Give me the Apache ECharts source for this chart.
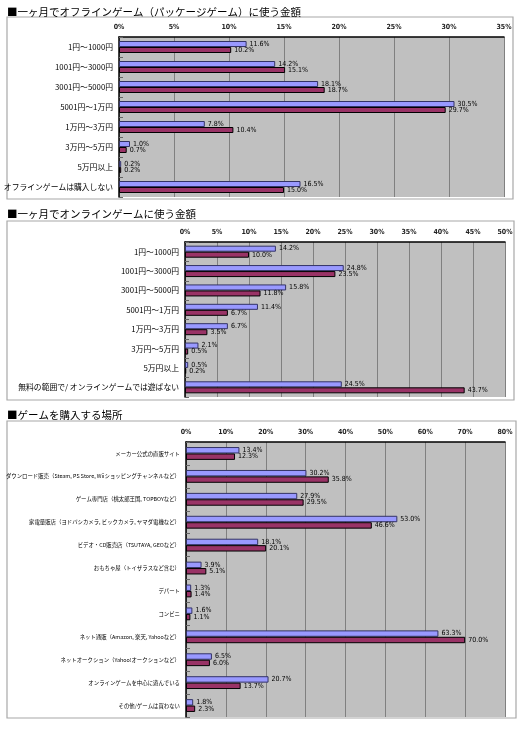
<!DOCTYPE html>
<html><head><meta charset="utf-8">
<script src="https://cdn.jsdelivr.net/npm/echarts@6/dist/echarts.min.js"></script>
<style>html,body{margin:0;padding:0;background:#fff;}#c{width:520px;height:732px;}</style>
</head><body><div id="c"></div>
<script>
// Chart 1: offline game spending per month
var titles = [
  '■一ヶ月でオフラインゲーム（パッケージゲーム）に使う金額',
  '■一ヶ月でオンラインゲームに使う金額',
  '■ゲームを購入する場所'
];
var cats1 = ['1円～1000円','1001円～3000円','3001円～5000円','5001円～1万円','1万円～3万円','3万円～5万円','5万円以上','オフラインゲームは購入しない'];
var blue1 = [11.6,14.2,18.1,30.5,7.8,1.0,0.2,16.5];
var red1  = [10.2,15.1,18.7,29.7,10.4,0.7,0.2,15.0];
var axisMax1 = 35, axisStep1 = 5;

// Chart 2: online game spending per month
var cats2 = ['1円～1000円','1001円～3000円','3001円～5000円','5001円～1万円','1万円～3万円','3万円～5万円','5万円以上','無料の範囲で/ オンラインゲームでは遊ばない'];
var blue2 = [14.2,24.8,15.8,11.4,6.7,2.1,0.5,24.5];
var red2  = [10.0,23.5,11.8,6.7,3.5,0.5,0.2,43.7];
var axisMax2 = 50, axisStep2 = 5;

// Chart 3: where games are purchased
var cats3 = ['メーカー公式の直販サイト','ダウンロード販売（Steam, PS Store, Wiiショッピングチャンネルなど）','ゲーム専門店（桃太郎王国, TOPBOYなど）','家電量販店（ヨドバシカメラ, ビックカメラ, ヤマダ電機など）','ビデオ・CD販売店（TSUTAYA, GEOなど）','おもちゃ屋（トイザラスなど含む）','デパート','コンビニ','ネット通販（Amazon, 楽天, Yahooなど）','ネットオークション（Yahoo!オークションなど）','オンラインゲームを中心に遊んでいる','その他/ゲームは買わない'];
var blue3 = [13.4,30.2,27.9,53.0,18.1,3.9,1.3,1.6,63.3,6.5,20.7,1.8];
var red3  = [12.3,35.8,29.5,46.6,20.1,5.1,1.4,1.1,70.0,6.0,13.7,2.3];
var axisMax3 = 80, axisStep3 = 10;

var JP = '"Noto Sans CJK JP", sans-serif';
var NUM = '"Liberation Sans Narrow", "DejaVu Sans Condensed", "Noto Sans CJK JP", sans-serif';

var grids = [
  {left:119, top:37, width:385, height:160},
  {left:185, top:242, width:320, height:155},
  {left:186, top:442, width:319, height:275}
];
var boxes = [
  {x:7, y:17, w:506, h:182},
  {x:7, y:221, w:507, h:179},
  {x:7, y:421, w:509, h:297}
];
var titleTops = [2, 204, 405];
var catFont = [7.8, 7.8, 5.4];
var gaps = ['40%','38%','44%'];
var maxes = [axisMax1, axisMax2, axisMax3];
var steps = [axisStep1, axisStep2, axisStep3];
var cats = [cats1, cats2, cats3];
var blues = [blue1, blue2, blue3];
var reds = [red1, red2, red3];

var option = {
  animation:false,
  backgroundColor:'#fff',
  title: titles.map(function(t,i){return {text:t, left:2, top:titleTops[i], textStyle:{fontFamily:JP, fontSize:10.5, fontWeight:'normal', color:'#000'}};}),
  graphic: boxes.map(function(b){return {type:'rect', shape:{x:b.x,y:b.y,width:b.w,height:b.h}, style:{fill:'none', stroke:'#a8a8a8', lineWidth:1.2}, z:-1};}),
  grid: grids.map(function(g){return {left:g.left, top:g.top, width:g.width, height:g.height, show:true, backgroundColor:'#c0c0c0', borderWidth:0, containLabel:false, outerBoundsMode:'none'};}),
  xAxis: grids.map(function(g,i){return {
    type:'value', gridIndex:i, position:'top', min:0, max:maxes[i], interval:steps[i],
    axisLine:{show:true, lineStyle:{color:'#000', width:1.5}},
    axisTick:{show:false},
    axisLabel:{formatter:'{value}%', fontFamily:NUM, fontSize:7, fontWeight:'bold', color:'#222', margin:6},
    splitLine:{show:true, lineStyle:{color:'#808080', width:1}}
  };}),
  yAxis: grids.map(function(g,i){return {
    type:'category', gridIndex:i, inverse:true, data:cats[i],
    axisLine:{show:true, lineStyle:{color:'#000', width:1.5}},
    axisTick:{show:true, inside:true, length:4, lineStyle:{color:'#666'}},
    axisLabel:{fontFamily:JP, fontSize:catFont[i], color:'#000', margin:6},
    splitLine:{show:false}
  };}),
  series: []
};
for (var i=0;i<3;i++){
  option.series.push({
    type:'bar', xAxisIndex:i, yAxisIndex:i, data:blues[i], barGap:'0%', barCategoryGap:gaps[i],
    itemStyle:{color:'#9999ff', borderColor:'#333366', borderWidth:1},
    label:{show:true, position:'right', distance:3, formatter:function(p){return p.value.toFixed(1)+'%';}, fontFamily:NUM, fontSize:7, color:'#000'}
  });
  option.series.push({
    type:'bar', xAxisIndex:i, yAxisIndex:i, data:reds[i], barGap:'0%', barCategoryGap:gaps[i],
    itemStyle:{color:'#993366', borderColor:'#000', borderWidth:1},
    label:{show:true, position:'right', distance:3, formatter:function(p){return p.value.toFixed(1)+'%';}, fontFamily:NUM, fontSize:7, color:'#000'}
  });
}
var chart = echarts.init(document.getElementById('c'), null, {renderer:'canvas'});
chart.setOption(option);
</script></body></html>
